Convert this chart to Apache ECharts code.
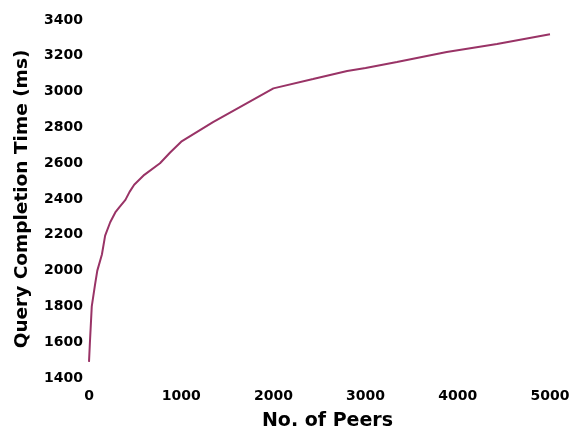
<!DOCTYPE html>
<html><head><meta charset="utf-8">
<script src="https://cdn.jsdelivr.net/npm/echarts@6/dist/echarts.min.js"></script>
<style>html,body{margin:0;padding:0;background:#fff}#c{width:571px;height:432px}</style>
</head><body><div id="c"></div>
<script>
var peers = [0, 10, 30, 65, 90, 140, 175, 230, 285, 330, 395, 440, 490, 600, 770, 880, 1000, 1345, 1714, 2000, 2430, 2800, 3000, 3340, 3880, 4425, 5000];
var timeMs = [1490, 1600, 1800, 1920, 2000, 2090, 2195, 2270, 2325, 2355, 2395, 2440, 2480, 2535, 2600, 2660, 2720, 2830, 2936, 3018, 3070, 3115, 3132, 3165, 3221, 3266, 3320];
var xTitle = 'No. of Peers';
var yTitle = 'Query Completion Time (ms)';

var chart = echarts.init(document.getElementById('c'));
var font = 'DejaVu Sans, sans-serif';
chart.setOption({
  animation: false,
  grid: {left: 89, right: 21, top: 20, bottom: 54, outerBoundsMode: 'none', containLabel: false},
  xAxis: {
    type: 'value', min: 0, max: 5000, interval: 1000,
    name: xTitle, nameLocation: 'middle', nameGap: 34,
    nameTextStyle: {fontFamily: font, fontWeight: 'bold', fontSize: 19, color: '#000', padding: [0, 0, 0, 16]},
    axisLine: {show: false}, axisTick: {show: false}, splitLine: {show: false},
    axisLabel: {fontFamily: font, fontWeight: 'bold', fontSize: 14, color: '#000', margin: 11,
      formatter: function(v){ return String(v); }}
  },
  yAxis: {
    type: 'value', min: 1400, max: 3400, interval: 200,
    name: yTitle, nameLocation: 'middle', nameGap: 57,
    nameTextStyle: {fontFamily: font, fontWeight: 'bold', fontSize: 18.5, color: '#000'},
    axisLine: {show: false}, axisTick: {show: false}, splitLine: {show: false},
    axisLabel: {fontFamily: font, fontWeight: 'bold', fontSize: 14, color: '#000', margin: 6,
      formatter: function(v){ return String(v); }}
  },
  series: [{
    type: 'line', data: peers.map(function(p, i){ return [p, timeMs[i]]; }),
    showSymbol: false, smooth: false,
    lineStyle: {color: '#993366', width: 2}
  }]
});
</script></body></html>
